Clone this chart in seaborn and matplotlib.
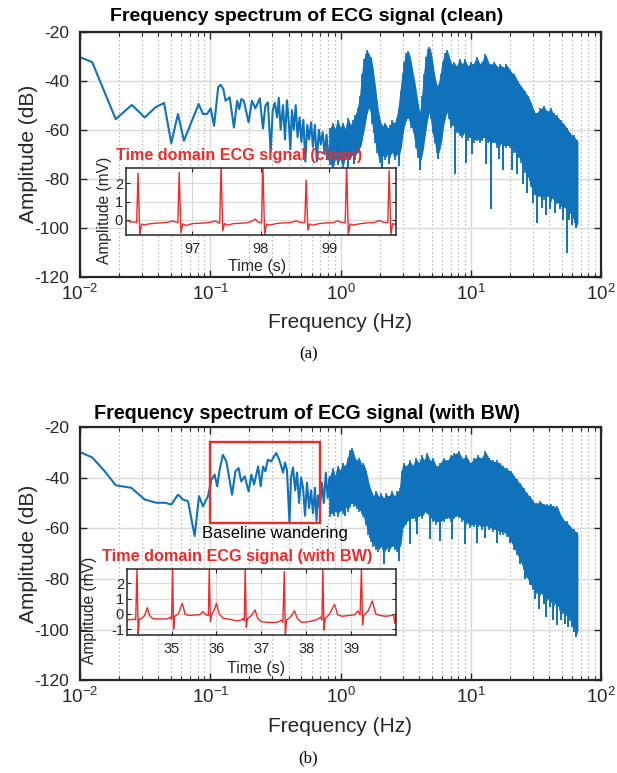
import numpy as np
import pandas as pd
import matplotlib
matplotlib.use("Agg")
import matplotlib.pyplot as plt
import seaborn as sns
from matplotlib.ticker import LogLocator, NullFormatter
from matplotlib.patches import Rectangle

# ---------------- data ----------------
titles = ["Frequency spectrum of ECG signal (clean)",
          "Frequency spectrum of ECG signal (with BW)"]
inset_titles = ["Time domain ECG signal (clean)",
                "Time domain ECG signal (with BW)"]
captions = ["(a)", "(b)"]
y_ticks = [-120, -100, -80, -60, -40, -20]

# low-frequency part of the clean spectrum (Hz, dB)
clean_line = [(0.01, -30.4), (0.0124, -32.4), (0.0188, -55.7), (0.025, -49.9), (0.0314, -55.0),
              (0.0379, -50.9), (0.0442, -49.1), (0.0502, -65.5), (0.0565, -53.6), (0.0628, -64.5),
              (0.0815, -49.5), (0.088, -53.6), (0.0944, -53.6), (0.1007, -51.3), (0.107, -58.4),
              (0.115, -42.7), (0.120, -41.7), (0.126, -43.4), (0.131, -48.2), (0.141, -46.8),
              (0.152, -59.1), (0.161, -48.2), (0.167, -51.6), (0.173, -47.5), (0.181, -48.2),
              (0.197, -57.0), (0.209, -48.2), (0.222, -51.3), (0.240, -47.2), (0.254, -59.5),
              (0.265, -50.2), (0.277, -48.8), (0.291, -69.0), (0.302, -52.0), (0.313, -49.0),
              (0.326, -55.0), (0.336, -47.0), (0.347, -60.0), (0.362, -50.0), (0.375, -64.0),
              (0.388, -48.0), (0.402, -58.0), (0.412, -68.0), (0.424, -52.0), (0.438, -60.0),
              (0.453, -50.0), (0.468, -63.0), (0.485, -55.0), (0.501, -65.0), (0.519, -56.0),
              (0.537, -73.0), (0.556, -58.0), (0.574, -64.0), (0.595, -57.0), (0.614, -67.0),
              (0.636, -58.0), (0.658, -73.0), (0.682, -60.0), (0.705, -66.0), (0.730, -61.0),
              (0.754, -70.0), (0.781, -62.0), (0.808, -72.0), (0.833, -66.0)]
# dense part of the clean spectrum: (Hz, upper envelope dB, lower envelope dB)
clean_band = [(0.833, -60, -73), (0.87, -58, -75), (0.91, -61, -70), (0.95, -57, -73),
              (0.994, -60, -71), (1.04, -58, -74), (1.09, -61, -70), (1.14, -56, -72),
              (1.19, -59, -71), (1.24, -57, -69), (1.30, -55, -70), (1.36, -52, -68),
              (1.42, -47, -66), (1.47, -38, -62), (1.52, -32, -58), (1.56, -30, -54),
              (1.60, -28.3, -52), (1.65, -30, -50), (1.70, -31, -51), (1.75, -35, -56),
              (1.80, -40, -60), (1.85, -45, -64), (1.92, -52, -68), (2.0, -57, -72),
              (2.1, -59, -70), (2.2, -58, -71), (2.3, -60, -69), (2.4, -59, -70),
              (2.5, -57, -68), (2.6, -58, -71), (2.7, -56, -69), (2.8, -52, -70),
              (2.9, -45, -66), (3.0, -38, -60), (3.1, -33, -57), (3.2, -29.5, -55),
              (3.3, -28.6, -54), (3.4, -31, -55), (3.5, -35, -58), (3.65, -40, -60),
              (3.8, -46, -66), (3.95, -52, -70), (4.1, -54, -72), (4.25, -47, -68),
              (4.4, -38, -62), (4.55, -31, -57), (4.7, -28, -53), (4.82, -27, -52),
              (4.95, -30, -54), (5.1, -35, -60), (5.3, -40, -64), (5.5, -43, -68),
              (5.7, -42, -68), (5.9, -38, -64), (6.1, -33, -58), (6.35, -29.5, -54),
              (6.56, -28.3, -51.6), (6.8, -31, -54), (7.1, -34, -58), (7.4, -33, -57),
              (7.8, -35, -60), (8.2, -32, -61), (8.6, -34, -62), (9.0, -32, -60),
              (9.5, -35, -63), (10.0, -33, -62), (10.5, -34, -64), (11.1, -31, -63),
              (11.7, -34, -64), (12.3, -33, -63), (12.9, -29.7, -62), (13.6, -33, -64),
              (14.3, -34, -65), (15.1, -33, -64), (16.0, -35, -66), (16.9, -34, -65),
              (17.8, -35.2, -66), (18.8, -34, -66), (20.1, -36.5, -66), (21.5, -38, -68),
              (23.0, -41, -70), (24.5, -43, -72), (26.0, -45, -76), (27.5, -47, -78),
              (29.0, -50, -82), (30.5, -53, -85), (32.1, -54, -87), (34.0, -52, -86),
              (36.2, -51, -87), (38.5, -53, -86), (41.0, -52, -88), (43.2, -54, -87),
              (46.0, -55, -89), (49.0, -57, -90), (51.5, -58, -91), (54.5, -60, -92),
              (58.0, -62, -93), (61.5, -63, -95), (65.4, -65, -98)]
# deep downward spikes of the clean spectrum: (Hz, from dB, to dB)
clean_spikes = [(0.87, -72, -75), (0.95, -70, -74), (1.15, -70, -77.5), (1.27, -67, -74),
                (2.08, -68, -76), (2.35, -67, -74), (2.79, -67, -75), (4.09, -69, -76.3),
                (5.6, -65, -72), (7.61, -55, -78.2), (9.2, -58, -73.4), (10.3, -60, -70),
                (13.0, -60, -74.1), (14.3, -62, -92.5), (16.5, -62, -72), (17.8, -63, -76.3),
                (20.7, -63, -76.3), (22.5, -66, -78), (25.0, -70, -82), (27.0, -74, -86),
                (29.8, -80, -90), (32.1, -84, -98), (35.0, -83, -92), (37.5, -83, -95),
                (40.7, -84, -92.5), (44.0, -84, -94), (48.7, -86, -92.5), (51.0, -88, -97),
                (54.6, -89, -110.3), (57.0, -90, -97), (60.0, -91, -99), (62.6, -92, -98),
                (64.5, -94, -100)]

# low-frequency part of the spectrum with baseline wandering (Hz, dB)
bw_line = [(0.01, -29.9), (0.0124, -32.0), (0.0155, -37.5), (0.0188, -43.0), (0.0248, -44.0),
           (0.0314, -48.6), (0.0385, -49.9), (0.0452, -49.9), (0.0502, -50.6), (0.0565, -46.7),
           (0.0618, -48.6), (0.0675, -49.3), (0.0759, -63.0), (0.082, -47.3), (0.088, -51.3),
           (0.0961, -47.3), (0.102, -40.8), (0.108, -38.8), (0.113, -43.4), (0.118, -36.9),
           (0.125, -31.0), (0.133, -33.6), (0.147, -46.7), (0.156, -37.5), (0.165, -36.2),
           (0.173, -41.5), (0.184, -39.5), (0.197, -45.4), (0.207, -38.8), (0.217, -42.7),
           (0.233, -35.6), (0.244, -43.4), (0.254, -35.6), (0.265, -37.5), (0.277, -32.9),
           (0.294, -33.6), (0.309, -31.6), (0.321, -30.3), (0.335, -32.3), (0.348, -34.9),
           (0.362, -38.0), (0.375, -34.0), (0.388, -37.0), (0.406, -58.0), (0.417, -40.0),
           (0.432, -36.0), (0.449, -45.0), (0.464, -38.0), (0.481, -50.0), (0.498, -40.0),
           (0.516, -44.0), (0.534, -55.0), (0.553, -42.0), (0.574, -52.0), (0.594, -45.0),
           (0.615, -54.0), (0.637, -44.0), (0.654, -57.0), (0.672, -47.0), (0.695, -52.0),
           (0.719, -42.0), (0.745, -50.0), (0.771, -38.0), (0.798, -48.0), (0.826, -40.0),
           (0.833, -46.0)]
bw_band = [(0.833, -40, -54), (0.87, -37, -53), (0.91, -41, -52), (0.95, -36, -54),
           (0.994, -38, -52), (1.04, -35, -53), (1.09, -36, -51), (1.14, -33, -52),
           (1.18, -30, -50), (1.22, -29, -49), (1.27, -32, -50), (1.33, -34, -51),
           (1.39, -33, -52), (1.45, -36, -53), (1.50, -35, -54), (1.56, -38, -57),
           (1.64, -43, -61), (1.72, -46, -64), (1.79, -48, -66), (1.87, -46, -67),
           (1.95, -48, -68), (2.05, -47, -66), (2.14, -49, -69), (2.25, -47, -67),
           (2.36, -48, -68), (2.47, -46, -66), (2.6, -48, -67), (2.73, -46, -68),
           (2.87, -45, -66), (2.96, -38, -60), (3.05, -35, -58), (3.2, -36, -57),
           (3.4, -34, -56), (3.6, -36, -55), (3.8, -33, -56), (4.0, -35, -54),
           (4.2, -32, -55), (4.4, -34, -53), (4.6, -31, -53), (4.85, -34, -55),
           (5.1, -33, -56), (5.4, -36, -57), (5.8, -35, -57), (6.2, -33, -56),
           (6.6, -34, -55), (7.0, -32, -56), (7.5, -31, -55), (8.06, -30.3, -54.5),
           (8.6, -33, -56), (9.2, -32, -57), (9.9, -34.9, -58.4), (10.6, -33, -58),
           (11.4, -32, -58), (12.1, -33, -59), (12.9, -30.3, -58.4), (13.8, -33, -59),
           (14.8, -34, -60), (15.8, -34, -60), (16.8, -35, -61), (17.8, -36.2, -61),
           (19.0, -37, -62), (20.3, -38, -64), (21.5, -40, -67), (22.6, -41.4, -69),
           (24.0, -43, -72), (25.5, -45, -75), (26.9, -46.7, -78), (28.5, -48, -81),
           (30.2, -50, -83), (32.1, -50.6, -84.6), (34.2, -50, -85), (36.3, -51, -86),
           (38.4, -51.2, -87.2), (41.0, -51, -88), (43.5, -52, -89), (45.8, -51.9, -89.8),
           (48.5, -55, -91), (51.5, -57.1, -92.4), (54.5, -58, -93), (58.0, -59.7, -95),
           (61.5, -61, -97), (65.4, -62.4, -100.3)]
bw_spikes = [(0.884, -52, -55.2), (1.086, -50, -55.2), (1.69, -60, -63.7), (1.79, -63, -66.3),
             (2.14, -65, -74.1), (2.34, -64, -69.5), (2.79, -64, -72.8), (3.43, -54, -66.3),
             (3.85, -54, -62.4), (4.88, -52, -64.3), (5.82, -55, -65.0), (7.16, -53, -64.3),
             (9.06, -55, -66.3), (11.1, -56, -65.6), (12.9, -56, -63.7), (15.8, -58, -65.6),
             (20.1, -60, -65.7), (23.9, -67, -74.1), (26.0, -72, -80), (28.5, -78, -82),
             (31.0, -80, -88), (33.5, -82, -92), (36.2, -83, -89.8), (38.0, -84, -95),
             (40.7, -85, -91.1), (43.0, -86, -96), (45.8, -87, -98.3), (49.0, -89, -96),
             (53.0, -90, -97.6), (56.0, -91, -99), (59.6, -92, -99.0), (62.0, -94, -101),
             (64.3, -95, -102.9)]
bw_box = (0.1, 0.7, -58.0, -26.0)   # f_min, f_max, dB_min, dB_max
bw_note = (0.314, -62.2, "Baseline wandering")

# time-domain ECG snippets (s, mV)
ecg_clean = [(96.03, 0.0), (96.06, -0.05), (96.10, -0.12), (96.15, -0.10), (96.19, -0.15),
             (96.21, 2.55), (96.235, -0.85), (96.26, -0.22), (96.30, -0.28), (96.36, -0.22),
             (96.45, -0.18), (96.55, -0.16), (96.65, -0.12), (96.72, -0.05), (96.76, -0.12),
             (96.79, -0.15), (96.81, 2.6), (96.835, -0.70), (96.86, -0.22), (96.92, -0.30),
             (97.00, -0.20), (97.10, -0.18), (97.20, -0.16), (97.30, -0.10), (97.34, -0.05),
             (97.38, -0.15), (97.40, -0.18), (97.42, 3.0), (97.445, -0.60), (97.47, -0.20),
             (97.52, -0.28), (97.60, -0.20), (97.70, -0.18), (97.80, -0.15), (97.88, -0.05),
             (97.92, 0.05), (97.96, -0.12), (98.01, -0.15), (98.03, 3.0), (98.055, -0.85),
             (98.08, -0.22), (98.13, -0.28), (98.22, -0.20), (98.32, -0.16), (98.42, -0.15),
             (98.52, -0.05), (98.56, -0.12), (98.64, -0.15), (98.66, 2.18), (98.685, -0.55),
             (98.71, -0.22), (98.76, -0.28), (98.85, -0.20), (98.95, -0.16), (99.05, -0.15),
             (99.12, -0.05), (99.16, -0.12), (99.23, -0.15), (99.25, 3.0), (99.275, -0.85),
             (99.30, -0.22), (99.35, -0.28), (99.45, -0.20), (99.55, -0.16), (99.65, -0.14),
             (99.73, -0.03), (99.78, -0.12), (99.85, -0.15), (99.87, 2.7), (99.895, -0.80),
             (99.92, -0.20), (99.97, -0.25)]
ecg_bw = [(34.00, -0.45), (34.05, -0.35), (34.10, -0.38), (34.15, -0.33), (34.20, -0.38),
          (34.23, 3.0), (34.255, -1.31), (34.28, -0.35), (34.33, -0.30), (34.40, -0.10),
          (34.46, 0.41), (34.51, -0.10), (34.58, -0.30), (34.70, -0.33), (34.85, -0.33),
          (34.93, -0.30), (34.97, -0.20), (35.00, -0.35), (35.02, 3.0), (35.045, -1.0),
          (35.07, -0.15), (35.15, 0.0), (35.24, 0.70), (35.30, 0.0), (35.38, -0.10),
          (35.50, -0.07), (35.62, -0.05), (35.70, 0.15), (35.76, -0.05), (35.82, -0.10),
          (35.84, 3.0), (35.865, -0.5), (35.89, -0.05), (35.95, 0.25), (36.00, 0.70),
          (36.06, 0.0), (36.15, -0.28), (36.30, -0.35), (36.45, -0.45), (36.55, -0.40),
          (36.58, -0.30), (36.62, -0.45), (36.64, 3.0), (36.665, -0.87), (36.69, -0.30),
          (36.78, -0.10), (36.86, 0.26), (36.92, -0.30), (37.00, -0.50), (37.15, -0.55),
          (37.30, -0.55), (37.40, -0.50), (37.44, -0.40), (37.48, -0.55), (37.51, 2.76),
          (37.535, -1.37), (37.56, -0.40), (37.65, -0.20), (37.74, 0.21), (37.80, -0.30),
          (37.90, -0.55), (38.05, -0.50), (38.20, -0.40), (38.28, -0.30), (38.32, -0.20),
          (38.35, -0.40), (38.37, 3.0), (38.395, -1.05), (38.42, -0.30), (38.52, 0.0),
          (38.63, 0.63), (38.70, -0.05), (38.80, -0.15), (38.95, -0.10), (39.08, -0.05),
          (39.15, 0.20), (39.20, -0.05), (39.23, 3.0), (39.255, -0.72), (39.28, -0.10),
          (39.38, 0.20), (39.47, 0.85), (39.55, 0.0), (39.65, -0.10), (39.78, -0.15),
          (39.90, -0.10), (39.95, -0.05), (39.97, -0.60), (40.00, -0.15)]
clean_xticks = [97, 98, 99]
clean_yticks = [0, 1, 2]
bw_xticks = [35, 36, 37, 38, 39]
bw_yticks = [-1, 0, 1, 2]

# ---------------- style ----------------
sns.set_style("ticks")
plt.rcParams["font.family"] = ["Liberation Sans", "DejaVu Sans"]
plt.rcParams["mathtext.fontset"] = "custom"
plt.rcParams["mathtext.rm"] = "Liberation Sans"
plt.rcParams["mathtext.it"] = "Liberation Sans:italic"
plt.rcParams["mathtext.bf"] = "Liberation Sans:bold"
plt.rcParams["axes.unicode_minus"] = False

BLUE = "#0F72BA"
RED = "#EE2A2A"
DARK = "#262626"
W, H = 617, 773

fig = plt.figure(figsize=(W / 100, H / 100), dpi=100)


def frac_rect(x0, y0, x1, y1):
    return [x0 / W, 1 - y1 / H, (x1 - x0) / W, (y1 - y0) / H]


def style_main(ax):
    ax.set_xscale("log")
    ax.set_xlim(1e-2, 1e2)
    ax.set_ylim(-120, -20)
    ax.set_yticks(y_ticks)
    ax.xaxis.set_major_locator(LogLocator(base=10, numticks=10))
    ax.xaxis.set_minor_locator(LogLocator(base=10, subs=np.arange(2, 10), numticks=100))
    ax.xaxis.set_minor_formatter(NullFormatter())
    ax.grid(which="major", color="#dadada", lw=1.0, ls="-")
    ax.grid(which="minor", axis="x", color="#ababab", lw=0.9, ls=(0, (1, 2.2)))
    ax.set_axisbelow(True)
    ax.tick_params(which="both", direction="in", top=True, right=True, colors=DARK)
    ax.tick_params(which="major", length=5, width=1.0)
    ax.tick_params(which="minor", length=3, width=0.8)
    ax.tick_params(axis="y", labelsize=12.5, pad=8)
    ax.tick_params(axis="x", labelsize=13.5, pad=5)
    for s in ax.spines.values():
        s.set_linewidth(1.6)
        s.set_color(DARK)
    ax.set_xlabel("")
    ax.set_ylabel("")


def draw_spectrum(ax, line, band, spikes):
    df = pd.DataFrame(line, columns=["f", "db"])
    sns.lineplot(data=df, x="f", y="db", ax=ax, color=BLUE, lw=1.5,
                 estimator=None, sort=False, legend=False)
    bd = pd.DataFrame(band, columns=["f", "hi", "lo"])
    ax.fill_between(bd["f"], bd["lo"], bd["hi"], facecolor=BLUE, edgecolor=BLUE, lw=1.4)
    ax.vlines(bd["f"], bd["lo"] - 1.5, bd["hi"] + 0.8, color=BLUE, lw=1.2)
    sp = pd.DataFrame(spikes, columns=["f", "top", "bot"])
    ax.vlines(sp["f"], sp["bot"], sp["top"], color=BLUE, lw=1.4)


def style_inset(ax, xlim, ylim, xt, yt):
    ax.set_xlim(*xlim)
    ax.set_ylim(*ylim)
    ax.set_xticks(xt)
    ax.set_yticks(yt)
    ax.set_facecolor("white")
    ax.grid(which="major", color="#dadada", lw=0.9, ls="-")
    ax.set_axisbelow(True)
    ax.tick_params(which="both", direction="in", top=True, right=True, colors=DARK,
                   length=3, width=0.8, labelsize=10.5)
    ax.tick_params(axis="x", pad=5)
    ax.tick_params(axis="y", pad=2)
    for s in ax.spines.values():
        s.set_linewidth(1.1)
        s.set_color(DARK)
    ax.set_xlabel("")
    ax.set_ylabel("")


# ---------------- panel (a) ----------------
ax1 = fig.add_axes(frac_rect(80, 31.7, 601, 276.7))
draw_spectrum(ax1, clean_line, clean_band, clean_spikes)
style_main(ax1)

in1 = fig.add_axes(frac_rect(125.7, 168.3, 396, 235), zorder=5)
dfc = pd.DataFrame(ecg_clean, columns=["t", "mv"])
sns.lineplot(data=dfc, x="t", y="mv", ax=in1, color=RED, lw=1.0,
             estimator=None, sort=False, legend=False)
style_inset(in1, (96.03, 99.97), (-0.82, 2.82), clean_xticks, clean_yticks)

# ---------------- panel (b) ----------------
ax2 = fig.add_axes(frac_rect(80, 427, 601, 680.4))
draw_spectrum(ax2, bw_line, bw_band, bw_spikes)
style_main(ax2)
f0, f1, d0, d1 = bw_box
ax2.add_patch(Rectangle((f0, d0), f1 - f0, d1 - d0, fill=False, ec=RED, lw=1.7, zorder=4))
ax2.text(bw_note[0], bw_note[1], bw_note[2], ha="center", va="center",
         fontsize=12, color="black", zorder=4)

in2 = fig.add_axes(frac_rect(126.7, 569, 396, 635), zorder=5)
dfb = pd.DataFrame(ecg_bw, columns=["t", "mv"])
sns.lineplot(data=dfb, x="t", y="mv", ax=in2, color=RED, lw=1.0,
             estimator=None, sort=False, legend=False)
style_inset(in2, (34.0, 40.0), (-1.37, 2.93), bw_xticks, bw_yticks)

# ---------------- texts ----------------
def ftext(x, y, s, **kw):
    fig.text(x / W, 1 - y / H, s, **kw)

ftext(306.5, 16.5, titles[0], ha="center", va="center", fontsize=14, fontweight="bold", color="black")
ftext(307.5, 413.5, titles[1], ha="center", va="center", fontsize=14.2, fontweight="bold", color="black")
ftext(339.5, 322.5, "Frequency (Hz)", ha="center", va="center", fontsize=15, color=DARK)
ftext(339.5, 726, "Frequency (Hz)", ha="center", va="center", fontsize=15, color=DARK)
ftext(28, 154, "Amplitude (dB)", ha="center", va="center", rotation=90, fontsize=15, color=DARK)
ftext(28, 553.5, "Amplitude (dB)", ha="center", va="center", rotation=90, fontsize=15, color=DARK)

ftext(116, 155.5, inset_titles[0], ha="left", va="center", fontsize=11.6, fontweight="bold",
      color=RED, zorder=6)
ftext(101.5, 556, inset_titles[1], ha="left", va="center", fontsize=11.7, fontweight="bold",
      color=RED, zorder=6)
ftext(104, 210, "Amplitude (mV)", ha="center", va="center", rotation=90, fontsize=11.2,
      color=DARK, zorder=6)
ftext(90, 610, "Amplitude (mV)", ha="center", va="center", rotation=90, fontsize=11.2,
      color=DARK, zorder=6)
ftext(257.5, 266.5, "Time (s)", ha="center", va="center", fontsize=11.5, color=DARK, zorder=6)
ftext(256.5, 668.5, "Time (s)", ha="center", va="center", fontsize=11.5, color=DARK, zorder=6)

ftext(308.5, 354, captions[0], ha="center", va="center", fontsize=12,
      family=["Liberation Serif", "DejaVu Serif"], color="black")
ftext(308.5, 758, captions[1], ha="center", va="center", fontsize=12,
      family=["Liberation Serif", "DejaVu Serif"], color="black")

fig.savefig("out.png", dpi=100)
